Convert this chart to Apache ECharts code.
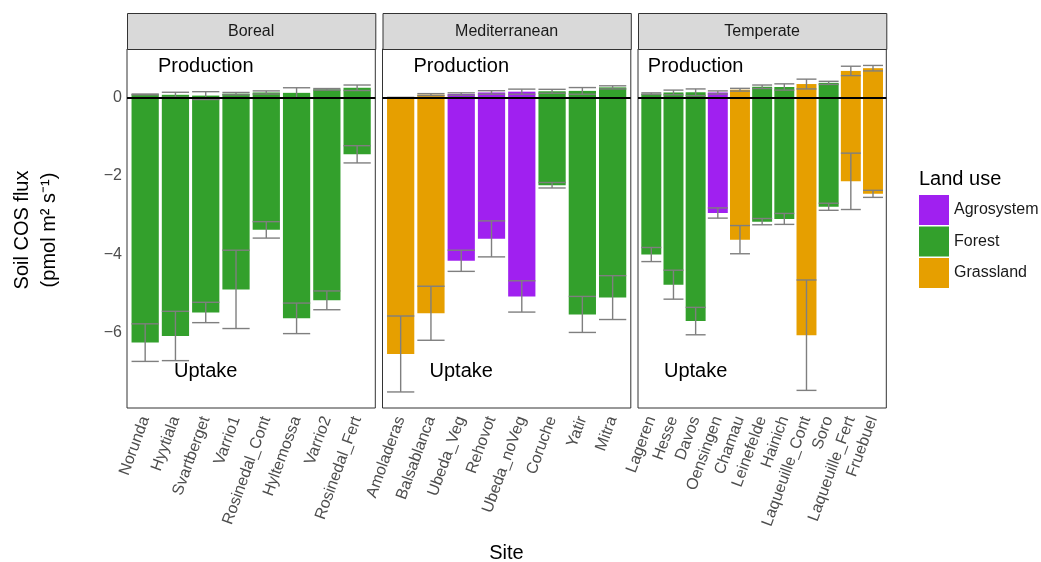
<!DOCTYPE html>
<html><head><meta charset="utf-8">
<script src="https://cdn.jsdelivr.net/npm/echarts@6/dist/echarts.min.js"></script>
<style>html,body{margin:0;padding:0;background:#fff}#c{width:1041px;height:562px}</style>
</head><body><div id="c"></div><script>
// ---------- data ----------
const climates = ['Boreal', 'Mediterranean', 'Temperate'];
const landUses = ['Agrosystem', 'Forest', 'Grassland'];
const landUseColors = ['#A020F0', '#33A02C', '#E69F00'];

const borealSites = ['Norunda','Hyytiala','Svartberget','Varrio1','Rosinedal_Cont','Hyltemossa','Varrio2','Rosinedal_Fert'];
const borealLandUse = ['Forest','Forest','Forest','Forest','Forest','Forest','Forest','Forest'];
const borealUptake = [-6.26,-6.09,-5.49,-4.90,-3.38,-5.64,-5.18,-1.45];
const borealUptakeSE = [0.48,0.63,0.26,1.00,0.21,0.39,0.24,0.22];
const borealProduction = [0.08,0.07,0.05,0.10,0.13,0.12,0.21,0.25];
const borealProductionSE = [0.01,0.065,0.10,0.03,0.04,0.13,0.02,0.07];

const medSites = ['Amoladeras','Balsablanca','Ubeda_Veg','Rehovot','Ubeda_noVeg','Coruche','Yatir','Mitra'];
const medLandUse = ['Grassland','Grassland','Agrosystem','Agrosystem','Agrosystem','Forest','Forest','Forest'];
const medUptake = [-6.55,-5.51,-4.17,-3.61,-5.08,-2.24,-5.54,-5.11];
const medUptakeSE = [0.97,0.69,0.27,0.46,0.40,0.07,0.46,0.56];
const medProduction = [0.00,0.075,0.09,0.13,0.15,0.16,0.17,0.26];
const medProductionSE = [0.005,0.025,0.03,0.045,0.065,0.05,0.085,0.04];

const tempSites = ['Lageren','Hesse','Davos','Oensingen','Chamau','Leinefelde','Hainich','Laqueuille_Cont','Soro','Laqueuille_Fert','Fruebuel'];
const tempLandUse = ['Forest','Forest','Forest','Agrosystem','Grassland','Forest','Forest','Grassland','Forest','Grassland','Grassland'];
const tempUptake = [-4.01,-4.78,-5.71,-2.95,-3.63,-3.17,-3.10,-6.07,-2.79,-2.14,-2.46];
const tempUptakeSE = [0.18,0.37,0.35,0.13,0.36,0.08,0.14,1.41,0.09,0.72,0.09];
const tempProduction = [0.10,0.13,0.135,0.13,0.20,0.275,0.27,0.345,0.375,0.68,0.75];
const tempProductionSE = [0.02,0.06,0.085,0.04,0.035,0.045,0.08,0.125,0.04,0.12,0.07];

const yTicks = [-6, -4, -2, 0];
const yMin = -7.93, yMax = 1.24;
const annotations = [{ text: 'Production', x: 2, y: 0.8 }, { text: 'Uptake', x: 2, y: -7 }];

// ---------- layout ----------
const FONT = '"Liberation Sans", Arial, Helvetica, sans-serif';
const panelLefts = [127, 382.5, 638];
const panelWidth = 248.3;
const panelTop = 49, panelHeight = 359;
const stripTop = 13;

const panels = [
  { sites: borealSites, lu: borealLandUse, up: borealUptake, upSE: borealUptakeSE, pr: borealProduction, prSE: borealProductionSE },
  { sites: medSites, lu: medLandUse, up: medUptake, upSE: medUptakeSE, pr: medProduction, prSE: medProductionSE },
  { sites: tempSites, lu: tempLandUse, up: tempUptake, upSE: tempUptakeSE, pr: tempProduction, prSE: tempProductionSE }
];

const grids = [], xAxes = [], yAxes = [], series = [], graphics = [];

function barRender(params, api) {
  const x = api.value(0), v = api.value(1);
  const a = api.coord([x - 0.45, 0]);
  const b = api.coord([x + 0.45, v]);
  return {
    type: 'rect',
    shape: { x: a[0], y: Math.min(a[1], b[1]), width: b[0] - a[0], height: Math.abs(b[1] - a[1]) },
    style: { fill: api.visual('color') }
  };
}
function errRender(params, api) {
  const x = api.value(0), lo = api.value(1), hi = api.value(2);
  const pHi = api.coord([x, hi]), pLo = api.coord([x, lo]);
  const half = api.size([0.45, 0])[0];
  const st = { stroke: '#7f7f7f', lineWidth: 1.4 };
  return {
    type: 'group',
    children: [
      { type: 'line', shape: { x1: pHi[0], y1: pHi[1], x2: pLo[0], y2: pLo[1] }, style: st },
      { type: 'line', shape: { x1: pHi[0] - half, y1: pHi[1], x2: pHi[0] + half, y2: pHi[1] }, style: st },
      { type: 'line', shape: { x1: pLo[0] - half, y1: pLo[1], x2: pLo[0] + half, y2: pLo[1] }, style: st }
    ]
  };
}
function textRender(params, api) {
  const p = api.coord([api.value(0), api.value(1)]);
  return {
    type: 'text', x: p[0], y: p[1],
    style: { text: annotations[params.dataIndex].text, fill: '#000', font: '20px ' + FONT, align: 'center', verticalAlign: 'middle' }
  };
}

panels.forEach((p, i) => {
  const n = p.sites.length;
  const idx = p.sites.map((_, k) => k);
  grids.push({ left: panelLefts[i], top: panelTop, width: panelWidth, height: panelHeight,
    show: true, borderColor: '#333333', borderWidth: 1, backgroundColor: '#ffffff', containLabel: false });
  xAxes.push({
    type: 'value', gridIndex: i, min: -0.6, max: n - 0.4,
    splitLine: { show: false }, axisLine: { show: false },
    axisTick: { show: true, length: 4, lineStyle: { color: '#333333', width: 1 }, customValues: idx },
    axisLabel: { show: true, rotate: 70, fontSize: 16, color: '#4d4d4d', fontFamily: FONT, margin: 9,
      customValues: idx, formatter: v => p.sites[Math.round(v)] }
  });
  yAxes.push({
    type: 'value', gridIndex: i, min: yMin, max: yMax,
    splitLine: { show: false }, axisLine: { show: false },
    axisTick: { show: i === 0, length: 4, lineStyle: { color: '#333333', width: 1 }, customValues: yTicks },
    axisLabel: { show: i === 0, fontSize: 16, color: '#4d4d4d', fontFamily: FONT, margin: 5,
      customValues: yTicks, formatter: v => String(v).replace('-', '\u2212') }
  });
  landUses.forEach((lu, li) => {
    const data = [];
    p.sites.forEach((s, k) => {
      if (p.lu[k] === lu) { data.push([k, p.up[k]]); data.push([k, p.pr[k]]); }
    });
    if (data.length) {
      series.push({ type: 'custom', name: lu, xAxisIndex: i, yAxisIndex: i, clip: true,
        itemStyle: { color: landUseColors[li] }, renderItem: barRender, data: data, z: 2, silent: true });
    }
  });
  const errData = [];
  p.sites.forEach((s, k) => {
    errData.push([k, p.up[k] - p.upSE[k], p.up[k] + p.upSE[k]]);
    errData.push([k, p.pr[k] - p.prSE[k], p.pr[k] + p.prSE[k]]);
  });
  series.push({ type: 'custom', name: 'err' + i, xAxisIndex: i, yAxisIndex: i, clip: true,
    renderItem: errRender, data: errData, z: 3, silent: true,
    markLine: { silent: true, symbol: 'none', label: { show: false },
      lineStyle: { color: '#000000', width: 1.8, type: 'solid' }, data: [{ yAxis: 0 }], z: 5 } });
  series.push({ type: 'custom', name: 'ann' + i, xAxisIndex: i, yAxisIndex: i, clip: false,
    renderItem: textRender, data: annotations.map(a => [a.x, a.y]), z: 4, silent: true });

  // strip
  graphics.push({ type: 'rect', left: panelLefts[i], top: stripTop,
    shape: { width: panelWidth, height: panelTop - stripTop },
    style: { fill: '#d9d9d9', stroke: '#333333', lineWidth: 1 }, z: 1 });
  graphics.push({ type: 'text', x: panelLefts[i] + panelWidth / 2, y: (stripTop + panelTop) / 2 + 0.5,
    style: { text: climates[i], font: '16px ' + FONT, fill: '#1a1a1a', align: 'center', verticalAlign: 'middle' }, z: 2 });
});

// axis titles & legend title
graphics.push({ type: 'text', x: 22, y: 230, rotation: Math.PI / 2,
  style: { text: 'Soil COS flux', font: '20px ' + FONT, fill: '#000', align: 'center', verticalAlign: 'middle' } });
graphics.push({ type: 'text', x: 49, y: 230, rotation: Math.PI / 2,
  style: { text: '(pmol m\u00B2 s\u207B\u00B9)', font: '20px ' + FONT, fill: '#000', align: 'center', verticalAlign: 'middle' } });
graphics.push({ type: 'text', x: 506.5, y: 553,
  style: { text: 'Site', font: '20px ' + FONT, fill: '#000', align: 'center', verticalAlign: 'middle' } });
graphics.push({ type: 'text', x: 919, y: 179,
  style: { text: 'Land use', font: '20px ' + FONT, fill: '#000', align: 'left', verticalAlign: 'middle' } });

const chart = echarts.init(document.getElementById('c'), null, { renderer: 'canvas' });
chart.setOption({
  animation: false,
  backgroundColor: '#ffffff',
  grid: grids, xAxis: xAxes, yAxis: yAxes, series: series,
  legend: {
    data: landUses, orient: 'vertical', left: 919, top: 195, padding: 0,
    itemWidth: 30, itemHeight: 30, itemGap: 1.5, icon: 'rect',
    textStyle: { fontSize: 16, color: '#1a1a1a', fontFamily: FONT },
    selectedMode: false
  },
  graphic: graphics
});
</script></body></html>
